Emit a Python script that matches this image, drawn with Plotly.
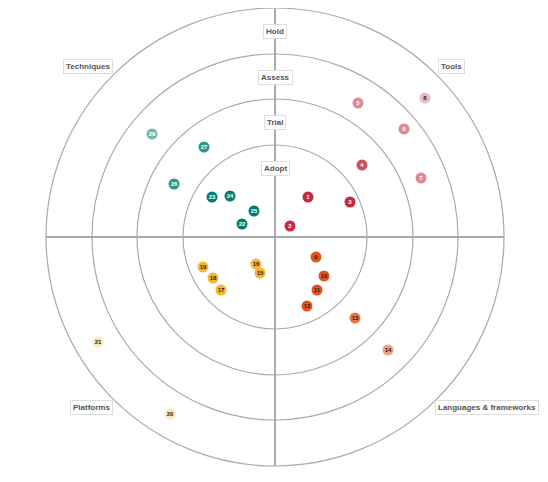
import plotly.graph_objects as go

# ring definitions (radius in chart units, outermost = Hold)
ring_names = ["Adopt", "Trial", "Assess", "Hold"]
ring_radii = [92, 138, 183, 229]
ring_alpha = [1.0, 0.82, 0.55, 0.32]

# quadrant blips: ids, x, y, ring index
tools_ids = [1, 2, 3, 4, 5, 6, 7, 8]
tools_x = [33, 15, 75, 87, 83, 129, 146, 150]
tools_y = [40, 11, 35, 72, 134, 108, 59, 139]
tools_ring = [0, 0, 0, 1, 2, 2, 2, 3]

lang_ids = [9, 10, 11, 12, 13, 14]
lang_x = [41, 49, 42, 32, 80, 113]
lang_y = [-20, -39, -53, -69, -81, -113]
lang_ring = [0, 0, 0, 0, 1, 2]

plat_ids = [15, 16, 17, 18, 19, 20, 21]
plat_x = [-15, -19, -54, -62, -72, -105, -177]
plat_y = [-36, -27, -53, -41, -30, -177, -105]
plat_ring = [0, 0, 0, 0, 0, 3, 3]

tech_ids = [22, 23, 24, 25, 26, 27, 28]
tech_x = [-33, -63, -45, -21, -101, -71, -123]
tech_y = [13, 40, 41, 26, 53, 90, 103]
tech_ring = [0, 0, 0, 0, 1, 1, 2]

quadrants = [
    ("Tools", tools_ids, tools_x, tools_y, tools_ring, (200, 40, 59), "white"),
    ("Languages & frameworks", lang_ids, lang_x, lang_y, lang_ring, (224, 86, 28), "#222"),
    ("Platforms", plat_ids, plat_x, plat_y, plat_ring, (248, 181, 53), "#222"),
    ("Techniques", tech_ids, tech_x, tech_y, tech_ring, (0, 128, 107), "white"),
]

# quadrant label positions
quad_label_pos = {
    "Techniques": (-187, 171),
    "Tools": (176, 171),
    "Platforms": (-184, -170),
    "Languages & frameworks": (212, -170),
}

fig = go.Figure()

# rings and axes
shapes = []
for r in ring_radii:
    shapes.append(dict(type="circle", xref="x", yref="y", x0=-r, y0=-r, x1=r, y1=r,
                       line=dict(color="#a9a9a9", width=1.2), layer="below"))
outer = ring_radii[-1]
shapes.append(dict(type="line", xref="x", yref="y", x0=-outer, y0=0, x1=outer, y1=0,
                   line=dict(color="#aaaaaa", width=2), layer="below"))
shapes.append(dict(type="line", xref="x", yref="y", x0=0, y0=-outer, x1=0, y1=outer,
                   line=dict(color="#aaaaaa", width=2), layer="below"))

for name, ids, xs, ys, rings, rgb, txt in quadrants:
    colors = [f"rgba({rgb[0]},{rgb[1]},{rgb[2]},{ring_alpha[r]})" for r in rings]
    text_colors = [txt if r < 3 else "#222" for r in rings]
    fig.add_trace(go.Scatter(
        x=xs, y=ys, mode="markers+text", name=name,
        text=[f"<b>{i}</b>" for i in ids],
        textposition="middle center",
        textfont=dict(size=6, color=text_colors, family="Arial"),
        marker=dict(size=11, color=colors, line=dict(width=0)),
        hoverinfo="text",
    ))

annotations = []
box = dict(bgcolor="white", bordercolor="#dddddd", borderwidth=1, borderpad=2,
           font=dict(size=8, color="#555555", family="Arial"), showarrow=False)
for name, r in zip(ring_names, ring_radii):
    annotations.append(dict(x=0, y=r - 23.5, xref="x", yref="y", text=f"<b>{name}</b>", **box))
for name, (qx, qy) in quad_label_pos.items():
    annotations.append(dict(x=qx, y=qy, xref="x", yref="y", text=f"<b>{name}</b>", **box))

# page body adds an 8px margin, so the figure is 8px smaller on each axis
fig.update_layout(
    width=540, height=474, autosize=False,
    margin=dict(l=0, r=0, t=0, b=0),
    paper_bgcolor="white", plot_bgcolor="white",
    showlegend=False,
    shapes=shapes, annotations=annotations,
)
fig.update_xaxes(range=[-267, 273], visible=False, fixedrange=True)
fig.update_yaxes(range=[-245, 229], visible=False, fixedrange=True)

fig.write_html("out.html")
